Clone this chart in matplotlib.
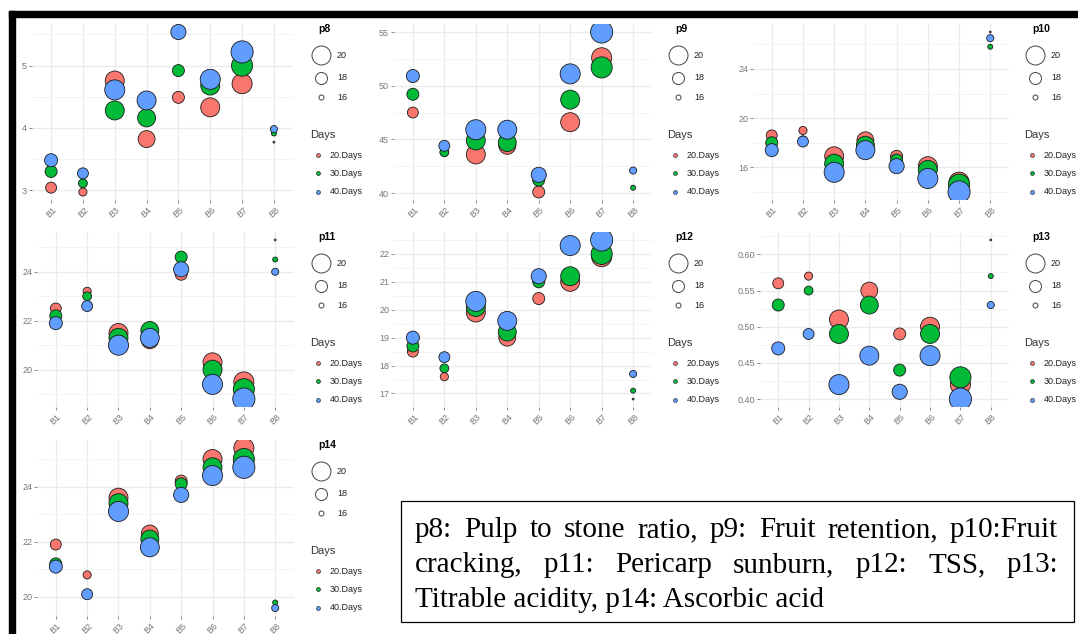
import matplotlib.pyplot as plt
from matplotlib.patches import Rectangle
from matplotlib.ticker import MultipleLocator, FormatStrFormatter

plt.rcParams['font.family'] = ['Liberation Sans', 'DejaVu Sans']

W, H = 1078, 634

blocks = ['B1', 'B2', 'B3', 'B4', 'B5', 'B6', 'B7', 'B8']
day_labels = ['20.Days', '30.Days', '40.Days']
day_colors = ['#F8766D', '#00BA38', '#619CFF']
size_breaks = [20, 18, 16]

# size variable, shared by every panel
size_20 = [17.7, 16.9, 20.0, 19.4, 18.0, 20.0, 20.3, 15.1]
size_30 = [18.0, 17.1, 20.0, 19.7, 18.0, 20.0, 20.6, 16.0]
size_40 = [18.3, 17.7, 20.3, 20.0, 18.9, 20.3, 20.9, 16.6]

p8_20 = [3.04, 2.97, 4.76, 3.82, 4.49, 4.33, 4.71, 3.77]
p8_30 = [3.30, 3.11, 4.28, 4.16, 4.92, 4.68, 5.00, 3.91]
p8_40 = [3.48, 3.27, 4.61, 4.44, 5.54, 4.78, 5.22, 3.98]

p9_20 = [47.5, 43.8, 43.6, 44.4, 40.1, 46.6, 52.6, 42.0]
p9_30 = [49.2, 43.8, 44.9, 44.7, 41.2, 48.7, 51.7, 40.5]
p9_40 = [50.9, 44.4, 45.9, 45.9, 41.7, 51.1, 55.0, 42.1]

p10_20 = [18.6, 19.0, 16.9, 18.2, 16.9, 16.1, 14.8, 27.0]
p10_30 = [18.0, 18.2, 16.3, 17.8, 16.6, 15.8, 14.6, 25.8]
p10_40 = [17.4, 18.1, 15.6, 17.4, 16.1, 15.1, 14.0, 26.5]

p11_20 = [22.5, 23.2, 21.5, 21.2, 23.9, 20.3, 19.5, 25.3]
p11_30 = [22.2, 23.0, 21.3, 21.6, 24.6, 20.0, 19.2, 24.5]
p11_40 = [21.9, 22.6, 21.0, 21.3, 24.1, 19.4, 18.8, 24.0]

p12_20 = [18.5, 17.6, 19.9, 19.0, 20.4, 21.0, 21.9, 16.8]
p12_30 = [18.7, 17.9, 20.1, 19.2, 21.0, 21.2, 22.0, 17.1]
p12_40 = [19.0, 18.3, 20.3, 19.6, 21.2, 22.3, 22.5, 17.7]

p13_20 = [0.56, 0.57, 0.51, 0.55, 0.49, 0.50, 0.42, 0.62]
p13_30 = [0.53, 0.55, 0.49, 0.53, 0.44, 0.49, 0.43, 0.57]
p13_40 = [0.47, 0.49, 0.42, 0.46, 0.41, 0.46, 0.40, 0.53]

p14_20 = [21.9, 20.8, 23.6, 22.3, 24.2, 25.0, 25.4, 19.8]
p14_30 = [21.2, 20.1, 23.4, 22.1, 24.1, 24.7, 25.0, 19.8]
p14_40 = [21.1, 20.1, 23.1, 21.8, 23.7, 24.4, 24.7, 19.6]

caption_lines = [
    'p8: Pulp to stone ratio, p9: Fruit retention, p10:Fruit',
    'cracking, p11: Pericarp sunburn, p12: TSS, p13:',
    'Titrable acidity, p14: Ascorbic acid',
]

sizes = [size_20, size_30, size_40]
panels = [
    ('p8', [p8_20, p8_30, p8_40], 1, '%d'),
    ('p9', [p9_20, p9_30, p9_40], 5, '%d'),
    ('p10', [p10_20, p10_30, p10_40], 4, '%d'),
    ('p11', [p11_20, p11_30, p11_40], 2, '%d'),
    ('p12', [p12_20, p12_30, p12_40], 1, '%d'),
    ('p13', [p13_20, p13_30, p13_40], 0.05, '%.2f'),
    ('p14', [p14_20, p14_30, p14_40], 2, '%d'),
]
# panel boxes in pixels (left, top, right, bottom) and legend left edge
boxes = {
    'p8': (32, 24, 293, 200, 310),
    'p9': (394, 24, 652, 200, 667),
    'p10': (753, 24, 1009, 200, 1024),
    'p11': (37, 232, 294, 407, 310),
    'p12': (394, 232, 652, 407, 667),
    'p13': (760, 232, 1009, 407, 1024),
    'p14': (37, 440, 294, 616, 310),
}


def size_area(v):
    d = max(5 + 3.5 * (v - 16), 1.6)   # diameter in px
    return (d * 0.72) ** 2


fig = plt.figure(figsize=(W / 100, H / 100), dpi=100)
fig.patch.set_facecolor('white')

ov = fig.add_axes([0, 0, 1, 1], zorder=10)
ov.set_xlim(0, W)
ov.set_ylim(H, 0)
ov.axis('off')
ov.patch.set_alpha(0)

x = list(range(1, len(blocks) + 1))
for name, series, step, fmt in panels:
    l, t, r, b, L = boxes[name]
    ax = fig.add_axes([l / W, 1 - b / H, (r - l) / W, (b - t) / H])
    for vals, sz, col in zip(series, sizes, day_colors):
        ax.scatter(x, vals, s=[size_area(v) for v in sz], c=col,
                   edgecolors='#1a1a1a', linewidths=0.6, zorder=3)
    allv = [v for s in series for v in s]
    lo, hi = min(allv), max(allv)
    pad = 0.05 * (hi - lo)
    ax.set_ylim(lo - pad, hi + pad)
    ax.set_xlim(0.4, 8.6)
    ax.set_xticks(x)
    ax.set_xticklabels(blocks, rotation=45, ha='center', va='top')
    ax.yaxis.set_major_locator(MultipleLocator(step))
    ax.yaxis.set_minor_locator(MultipleLocator(step / 2))
    ax.yaxis.set_major_formatter(FormatStrFormatter(fmt))
    ax.tick_params(axis='both', which='major', labelsize=6.5, colors='#777777',
                   length=2, width=0.6, pad=1.5)
    ax.tick_params(axis='y', which='minor', length=0)
    ax.grid(which='major', color='#EBEBEB', linewidth=1.0)
    ax.grid(which='minor', axis='y', color='#F3F3F3', linewidth=0.6)
    ax.set_axisbelow(True)
    for sp in ax.spines.values():
        sp.set_visible(False)

    # legends
    ov.text(L + 8, t + 5, name, fontsize=7.5, fontweight='bold', va='center', ha='left')
    for v, dy in zip(size_breaks, [31, 54, 73]):
        ov.scatter(L + 11, t + dy, s=size_area(v), facecolors='white',
                   edgecolors='#444444', linewidths=0.7, clip_on=False)
        ov.text(L + 27, t + dy, str(v), fontsize=6.5, va='center', color='#222222')
    ov.text(L, t + 111, 'Days', fontsize=8, va='center', color='#333333')
    for i, dy in enumerate([131, 149, 168]):
        ov.scatter(L + 8, t + dy, s=8, c=day_colors[i], edgecolors='#333333',
                   linewidths=0.5, clip_on=False)
        ov.text(L + 20, t + dy, day_labels[i], fontsize=6.5, va='center', color='#222222')

# black frame on top and left
ov.add_patch(Rectangle((9, 11), W - 9, 6, color='black', clip_on=False))
ov.add_patch(Rectangle((9, 11), 6, H - 11, color='black', clip_on=False))

# caption box with justified text
ov.add_patch(Rectangle((401, 501), 673, 121, facecolor='white', edgecolor='black',
                       linewidth=0.9, clip_on=False))
renderer = fig.canvas.get_renderer()
left, right = 415, 1058
baselines = [537, 572, 607]
fs = 21
for k, (line, yb) in enumerate(zip(caption_lines, baselines)):
    if k == len(caption_lines) - 1:
        ov.text(left, yb, line, fontsize=fs, family='Liberation Serif', va='baseline')
        continue
    words = line.split()
    txts = [ov.text(0, yb, w, fontsize=fs, family='Liberation Serif', va='baseline')
            for w in words]
    widths = [tx.get_window_extent(renderer).width for tx in txts]
    gap = (right - left - sum(widths)) / (len(words) - 1)
    xpos = left
    for tx, wd in zip(txts, widths):
        tx.set_x(xpos)
        xpos += wd + gap

fig.savefig('out.png', dpi=100, facecolor='white')
